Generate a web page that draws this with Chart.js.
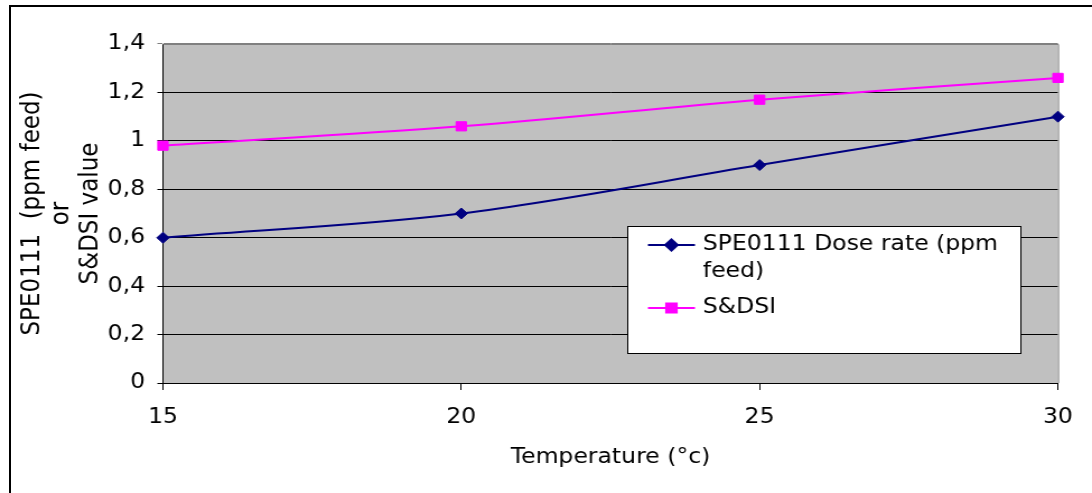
<!DOCTYPE html>
<html>
<head>
<meta charset="utf-8">
<script src="https://cdn.jsdelivr.net/npm/chart.js@4.4.1/dist/chart.umd.min.js"></script>
<style>
  html, body { margin: 0; padding: 0; background: #fff; }
  body { width: 1092px; height: 493px; position: relative; overflow: hidden; }
  #frame { position: absolute; left: 9px; top: 5px; width: 1100px; height: 500px;
           border-top: 2px solid #000; border-left: 2px solid #000; }
  /* the original picture is stretched sideways, so the chart is too */
  #wrap { position: absolute; left: 0; top: 0; width: 975px; height: 493px;
          transform: scaleX(1.12); transform-origin: 0 0; }
</style>
</head>
<body>
<div id="frame"></div>
<div id="wrap"><canvas id="chart"></canvas></div>
<script>
const temperatures = [15, 20, 25, 30];
const doseRate = [0.6, 0.7, 0.9, 1.1];
const sdsi = [0.98, 1.06, 1.17, 1.26];
const yTickLabels = ['0', '0,2', '0,4', '0,6', '0,8', '1', '1,2', '1,4'];
const xTickLabels = ['15', '20', '25', '30'];

const FONT = 'DejaVu Sans';

// gray plot area with gray top/right edge
const plotArea = {
    id: 'plotArea',
    beforeDraw(chart) {
        const {ctx, chartArea: a} = chart;
        ctx.save();
        ctx.fillStyle = '#c0c0c0';
        ctx.fillRect(a.left, a.top, a.right - a.left, a.bottom - a.top);
        ctx.restore();
    },
    beforeDatasetsDraw(chart) {
        const {ctx, chartArea: a} = chart;
        ctx.save();
        ctx.strokeStyle = '#808080';
        ctx.lineWidth = 1;
        ctx.beginPath();
        ctx.moveTo(a.left, a.top + 0.5);
        ctx.lineTo(a.right + 0.5, a.top + 0.5);
        ctx.lineTo(a.right + 0.5, a.bottom);
        ctx.stroke();
        ctx.restore();
    }
};

// boxed legend inside the plot, label text wraps
const legendBox = {
    id: 'legendBox',
    afterDraw(chart) {
        const ctx = chart.ctx;
        ctx.save();
        ctx.fillStyle = '#fff';
        ctx.fillRect(560.5, 226.5, 351, 127);
        ctx.strokeStyle = '#000';
        ctx.lineWidth = 1;
        ctx.strokeRect(560.5, 226.5, 351, 127);

        ctx.font = '21px "' + FONT + '"';
        ctx.textBaseline = 'middle';
        ctx.textAlign = 'left';
        let y = 245;
        chart.data.datasets.forEach(ds => {
            const words = ds.label.split(' ');
            const lines = [];
            let cur = '';
            words.forEach(w => {
                const test = cur ? cur + ' ' + w : w;
                if (cur && ctx.measureText(test).width > 280) {
                    lines.push(cur);
                    cur = w;
                } else {
                    cur = test;
                }
            });
            lines.push(cur);

            ctx.strokeStyle = ds.borderColor;
            ctx.lineWidth = 2;
            ctx.beginPath();
            ctx.moveTo(578.5, y);
            ctx.lineTo(620.5, y);
            ctx.stroke();
            ctx.fillStyle = ds.backgroundColor;
            ctx.strokeStyle = ds.borderColor;
            Chart.helpers.drawPoint(ctx, {
                pointStyle: ds.pointStyle, radius: ds.pointRadius, rotation: 0, borderWidth: 1
            }, 599.5, y);

            ctx.fillStyle = '#000';
            lines.forEach((ln, i) => ctx.fillText(ln, 627.5, y + i * 27));
            y += lines.length * 27 + 9;
        });
        ctx.restore();
    }
};

new Chart(document.getElementById('chart'), {
    type: 'line',
    data: {
        datasets: [{
            label: 'SPE0111 Dose rate (ppm feed)',
            data: temperatures.map((t, i) => ({x: t, y: doseRate[i]})),
            borderColor: '#000080',
            backgroundColor: '#000080',
            borderWidth: 2,
            pointStyle: 'rectRot',
            pointRadius: 5.5,
            pointBorderWidth: 1,
            tension: 0.33,
            clip: false
        }, {
            label: 'S&DSI',
            data: temperatures.map((t, i) => ({x: t, y: sdsi[i]})),
            borderColor: '#ff00ff',
            backgroundColor: '#ff00ff',
            borderWidth: 2,
            pointStyle: 'rect',
            pointRadius: 6.5,
            pointBorderWidth: 1,
            tension: 0.33,
            clip: false
        }]
    },
    options: {
        responsive: true,
        maintainAspectRatio: false,
        animation: false,
        layout: {padding: {left: 0, right: 30.4, top: 44, bottom: 0}},
        plugins: {
            legend: {display: false},
            tooltip: {enabled: false}
        },
        scales: {
            x: {
                type: 'linear',
                min: 15,
                max: 30,
                afterFit: s => { s.height = 110; },
                afterBuildTicks: s => { s.ticks = temperatures.map(v => ({value: v})); },
                ticks: {
                    callback: (v, i) => xTickLabels[i],
                    color: '#000',
                    padding: 15,
                    font: {family: FONT, size: 21}
                },
                grid: {drawOnChartArea: false, drawTicks: true, tickLength: 7, color: '#000'},
                border: {display: true, color: '#000', width: 1},
                title: {
                    display: true,
                    text: 'Temperature (°c)',
                    color: '#000',
                    font: {family: FONT, size: 21, lineHeight: 1.2},
                    padding: {top: 0, bottom: 22.5}
                }
            },
            y: {
                min: 0,
                max: 1.4,
                afterFit: s => { s.width = 145.5; },
                afterBuildTicks: s => { s.ticks = yTickLabels.map((l, i) => ({value: i * 0.2})); },
                ticks: {
                    callback: (v, i) => yTickLabels[i],
                    color: '#000',
                    padding: 11,
                    font: {family: FONT, size: 21}
                },
                grid: {
                    color: c => (c.tick && c.index === yTickLabels.length - 1) ? '#808080' : '#000',
                    lineWidth: 1,
                    tickLength: 5
                },
                border: {display: true, color: '#000', width: 1},
                title: {
                    display: true,
                    text: ['SPE0111  (ppm feed)', 'or', 'S&DSI value'],
                    color: '#000',
                    font: {family: FONT, size: 23, lineHeight: 1.148},
                    padding: {top: 15.4, bottom: 0}
                }
            }
        }
    },
    plugins: [plotArea, legendBox]
});
</script>
</body>
</html>
